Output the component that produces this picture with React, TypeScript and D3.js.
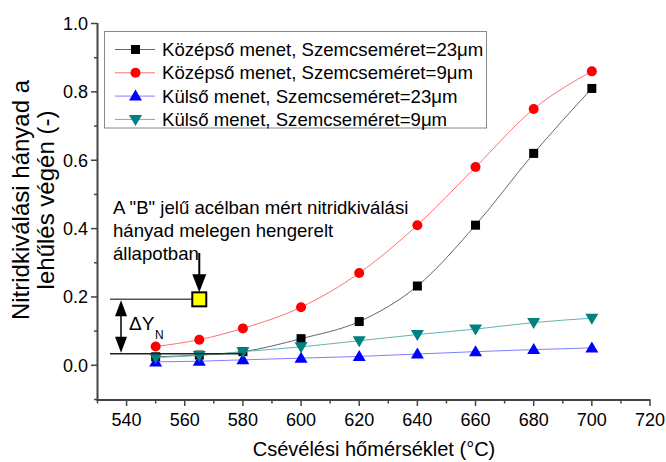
import React from "react";
import * as d3 from "d3";

const temps = [550, 565, 580, 600, 620, 640, 660, 680, 700];
const kozepso23 = [0.025, 0.03, 0.04, 0.078, 0.128, 0.232, 0.41, 0.62, 0.81];
const kozepso9 = [0.055, 0.075, 0.108, 0.17, 0.27, 0.41, 0.58, 0.75, 0.86];
const kulso23 = [0.01, 0.012, 0.016, 0.021, 0.026, 0.033, 0.04, 0.046, 0.051];
const kulso9 = [0.023, 0.029, 0.04, 0.054, 0.072, 0.09, 0.106, 0.125, 0.138];

const seriesNames = [
  "Középső menet, Szemcseméret=23μm",
  "Középső menet, Szemcseméret=9μm",
  "Külső menet, Szemcseméret=23μm",
  "Külső menet, Szemcseméret=9μm",
];
const xTicks = [540, 560, 580, 600, 620, 640, 660, 680, 700, 720];
const xMinor = [530, 550, 570, 590, 610, 630, 650, 670, 690, 710];
const yTicks = [0, 0.2, 0.4, 0.6, 0.8, 1.0];
const yMinor = [-0.1, 0.1, 0.3, 0.5, 0.7, 0.9];

const refTemp = 565;
const refValue = 0.193;
const refLow = 0.034;
const refLowEndTemp = 580;
const annotationLines = [
  'A "B" jelű acélban mért nitridkiválási',
  "hányad melegen hengerelt",
  "állapotban",
];

const FONT = "'Liberation Sans', Arial, sans-serif";

export default function App() {
  const x = d3.scaleLinear().domain([530, 720]).range([97.5, 650]);
  const y = d3.scaleLinear().domain([-0.1, 1.0]).range([399.5, 23.5]);

  const series = [
    { values: kozepso23, line: "#666666", fill: "#000000", marker: "square" },
    { values: kozepso9, line: "#ff7070", fill: "#ff0000", marker: "circle" },
    { values: kulso23, line: "#8080ff", fill: "#0000ff", marker: "up" },
    { values: kulso9, line: "#66b2b2", fill: "#008080", marker: "down" },
  ];

  const lineGen = d3
    .line<[number, number]>()
    .x((d) => x(d[0]))
    .y((d) => y(d[1]))
    .curve(d3.curveMonotoneX);

  const marker = (type: string, cx: number, cy: number, fill: string, key: any) => {
    if (type === "square")
      return <rect key={key} x={cx - 4.5} y={cy - 4.5} width={9} height={9} fill={fill} />;
    if (type === "circle") return <circle key={key} cx={cx} cy={cy} r={5} fill={fill} />;
    if (type === "up")
      return (
        <path key={key} d={`M${cx},${cy - 6.5}L${cx + 6.5},${cy + 4.5}L${cx - 6.5},${cy + 4.5}Z`} fill={fill} />
      );
    return (
      <path key={key} d={`M${cx},${cy + 6.5}L${cx + 6.5},${cy - 4.5}L${cx - 6.5},${cy - 4.5}Z`} fill={fill} />
    );
  };

  const axisColor = "#444444";
  const sqX = x(refTemp);
  const sqY = y(refValue);
  const lowY = y(refLow);
  const arrX = 121;

  return (
    <svg width={666} height={462} style={{ position: "absolute", left: 0, top: 0 }} fontFamily={FONT}>
      <rect width={666} height={462} fill="#ffffff" />

      {/* legend */}
      <rect x={104.5} y={31.5} width={382} height={96.5} fill="none" stroke="#888888" strokeWidth={1} />
      {seriesNames.map((name, i) => {
        const cy = 49.5 + i * 23.3;
        const s = series[i];
        return (
          <g key={name}>
            <line x1={115} x2={155} y1={cy} y2={cy} stroke={s.line} strokeWidth={1} />
            {marker(s.marker, 135.5, cy, s.fill, "m")}
            <text x={162} y={cy + 6.5} fontSize={18.6} fill="#000">
              {name}
            </text>
          </g>
        );
      })}

      {/* series */}
      {series.map((s, i) => (
        <g key={i}>
          <path
            d={lineGen(temps.map((t, j) => [t, s.values[j]]) as [number, number][]) || ""}
            fill="none"
            stroke={s.line}
            strokeWidth={1}
          />
          {temps.map((t, j) => marker(s.marker, x(t), y(s.values[j]), s.fill, j))}
        </g>
      ))}

      {/* annotation */}
      {annotationLines.map((t, i) => (
        <text key={i} x={113} y={214 + i * 23} fontSize={18.6} fill="#000">
          {t}
        </text>
      ))}
      <line x1={110} x2={sqX} y1={sqY} y2={sqY} stroke="#555" strokeWidth={1.5} />
      <line x1={110} x2={x(refLowEndTemp)} y1={lowY} y2={lowY} stroke="#222" strokeWidth={1.5} />
      <line x1={arrX} x2={arrX} y1={sqY + 10} y2={lowY - 10} stroke="#000" strokeWidth={1.5} />
      <path d={`M${arrX},${sqY + 1}L${arrX + 6},${sqY + 17}L${arrX - 6},${sqY + 17}Z`} fill="#000" />
      <path d={`M${arrX},${lowY - 1}L${arrX + 6},${lowY - 17}L${arrX - 6},${lowY - 17}Z`} fill="#000" />
      <text x={129} y={330} fontSize={19} fill="#000">
        ΔY
      </text>
      <text x={155} y={339} fontSize={12} fill="#000">
        N
      </text>
      <line x1={sqX} x2={sqX} y1={253} y2={sqY - 20} stroke="#000" strokeWidth={2} />
      <path d={`M${sqX},${sqY - 7}L${sqX + 7},${sqY - 25}L${sqX - 7},${sqY - 25}Z`} fill="#000" />
      <rect x={sqX - 7} y={sqY - 7} width={14} height={14} fill="#ffff00" stroke="#000" strokeWidth={2} />

      {/* axes */}
      <line x1={97.5} x2={97.5} y1={23} y2={400.5} stroke={axisColor} strokeWidth={2} />
      <line x1={96.5} x2={650.5} y1={400} y2={400} stroke={axisColor} strokeWidth={2} />
      {yTicks.map((t) => (
        <g key={t}>
          <line x1={91} x2={97} y1={y(t)} y2={y(t)} stroke={axisColor} strokeWidth={1.5} />
          <text x={88} y={y(t) + 6.5} fontSize={18} textAnchor="end" fill="#000">
            {t.toFixed(1)}
          </text>
        </g>
      ))}
      {yMinor.map((t) => (
        <line key={t} x1={94} x2={97} y1={y(t)} y2={y(t)} stroke={axisColor} strokeWidth={1.5} />
      ))}
      {xTicks.map((t) => (
        <g key={t}>
          <line x1={x(t)} x2={x(t)} y1={400} y2={406} stroke={axisColor} strokeWidth={1.5} />
          <text x={x(t)} y={426} fontSize={18} textAnchor="middle" fill="#000">
            {t}
          </text>
        </g>
      ))}
      {xMinor.map((t) => (
        <line key={t} x1={x(t)} x2={x(t)} y1={400} y2={403.5} stroke={axisColor} strokeWidth={1.5} />
      ))}

      <text x={374} y={456} fontSize={20} textAnchor="middle" fill="#000">
        Csévélési hőmérséklet (°C)
      </text>
      <g transform="translate(29,200) rotate(-90)">
        <text x={0} y={0} fontSize={24} textAnchor="middle" fill="#000">
          Nitridkiválási hányad a
        </text>
        <text x={0} y={25} fontSize={24} textAnchor="middle" fill="#000">
          lehűlés végén (-)
        </text>
      </g>
    </svg>
  );
}
